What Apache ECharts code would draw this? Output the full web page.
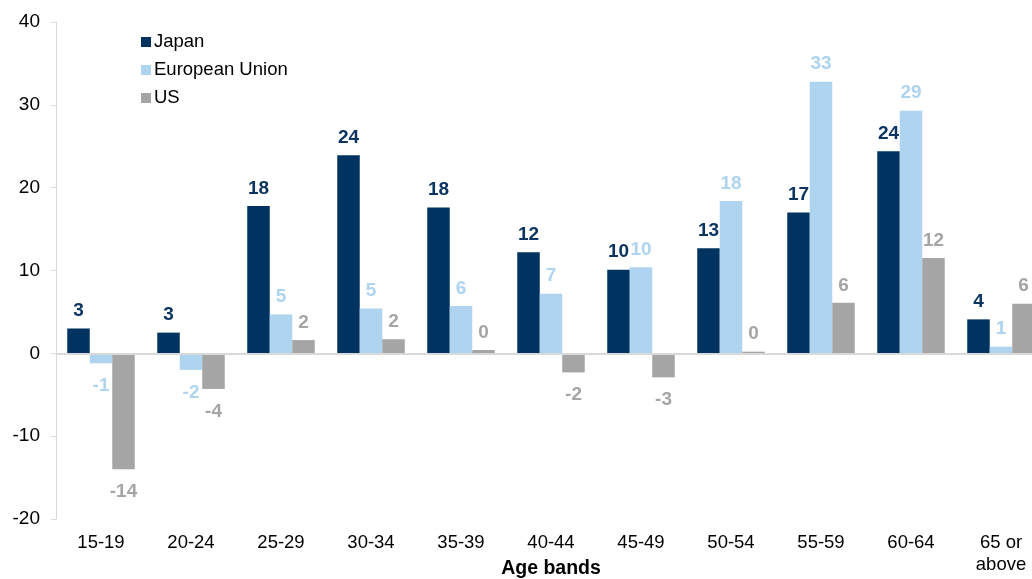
<!DOCTYPE html>
<html>
<head>
<meta charset="utf-8">
<script src="https://cdn.jsdelivr.net/npm/echarts@6/dist/echarts.min.js"></script>
<style>
html,body{margin:0;padding:0;background:#fff;}
#chart{width:1032px;height:579px;}
</style>
</head>
<body>
<div id="chart"></div>
<script>
const categories = ['15-19','20-24','25-29','30-34','35-39','40-44','45-49','50-54','55-59','60-64','65 or\nabove'];
const japan = [3.0, 2.5, 17.8, 23.9, 17.6, 12.2, 10.1, 12.7, 17.0, 24.4, 4.1];
const eu = [-1.2, -2.0, 4.7, 5.4, 5.7, 7.2, 10.4, 18.4, 32.8, 29.3, 0.8];
const us = [-14.0, -4.3, 1.6, 1.7, 0.4, -2.3, -2.9, 0.2, 6.1, 11.5, 6.0];
const yTicks = [-20, -10, 0, 10, 20, 30, 40];

const FONT = 'Liberation Sans, Arial, sans-serif';

function makeData(vals, color) {
  return vals.map(v => ({
    value: v,
    label: {
      show: true,
      position: v < 0 ? 'bottom' : 'top',
      distance: v < 0 ? 13 : 8,
      color: color,
      fontWeight: 'bold',
      fontSize: 19,
      fontFamily: FONT,
      formatter: p => String(Math.round(p.value) === 0 ? 0 : Math.round(p.value))
    }
  }));
}

const seriesDefs = [
  {name: 'Japan', data: japan, color: '#00335f', label: '#0b3560'},
  {name: 'European Union', data: eu, color: '#aed4f0', label: '#aed4f0'},
  {name: 'US', data: us, color: '#a5a5a5', label: '#a5a5a5'}
];

const chart = echarts.init(document.getElementById('chart'), null, {renderer: 'canvas'});
chart.setOption({
  animation: false,
  backgroundColor: '#fff',
  legend: {
    orient: 'vertical',
    left: 136,
    top: 32,
    padding: [0, 5],
    itemWidth: 10,
    itemHeight: 10,
    itemGap: 8,
    icon: 'rect',
    textStyle: {fontSize: 18.5, lineHeight: 20, fontFamily: FONT, color: '#000', padding: [0, 0, 0, -2]},
    data: seriesDefs.map(s => s.name)
  },
  grid: {left: 56, top: 22, height: 497, width: 990, containLabel: false, outerBoundsMode: 'none'},
  xAxis: {
    type: 'category',
    data: categories,
    position: 'bottom',
    axisLine: {show: false},
    axisTick: {show: false},
    axisLabel: {fontSize: 18.5, fontFamily: FONT, color: '#000', margin: 13, lineHeight: 22, interval: 0},
    name: 'Age bands',
    nameLocation: 'middle',
    nameGap: 40,
    nameMoveOverlap: false,
    nameTextStyle: {fontSize: 19.5, fontWeight: 'bold', fontFamily: FONT, color: '#000'}
  },
  yAxis: {
    type: 'value',
    min: yTicks[0],
    max: yTicks[yTicks.length - 1],
    interval: 10,
    axisLine: {show: true, lineStyle: {color: '#d9d9d9', width: 1}},
    axisTick: {show: true, length: 5, lineStyle: {color: '#d9d9d9'}},
    splitLine: {show: false},
    axisLabel: {fontSize: 19, fontFamily: FONT, color: '#000', margin: 16}
  },
  series: seriesDefs.map((s, i) => ({
    name: s.name,
    type: 'bar',
    data: makeData(s.data, s.label),
    itemStyle: {color: s.color},
    barGap: '0%',
    barCategoryGap: '25%',
    markLine: i === 0 ? {
      silent: true,
      symbol: 'none',
      label: {show: false},
      lineStyle: {color: '#d9d9d9', width: 2, type: 'solid'},
      data: [{yAxis: 0}]
    } : undefined
  }))
});
</script>
</body>
</html>
